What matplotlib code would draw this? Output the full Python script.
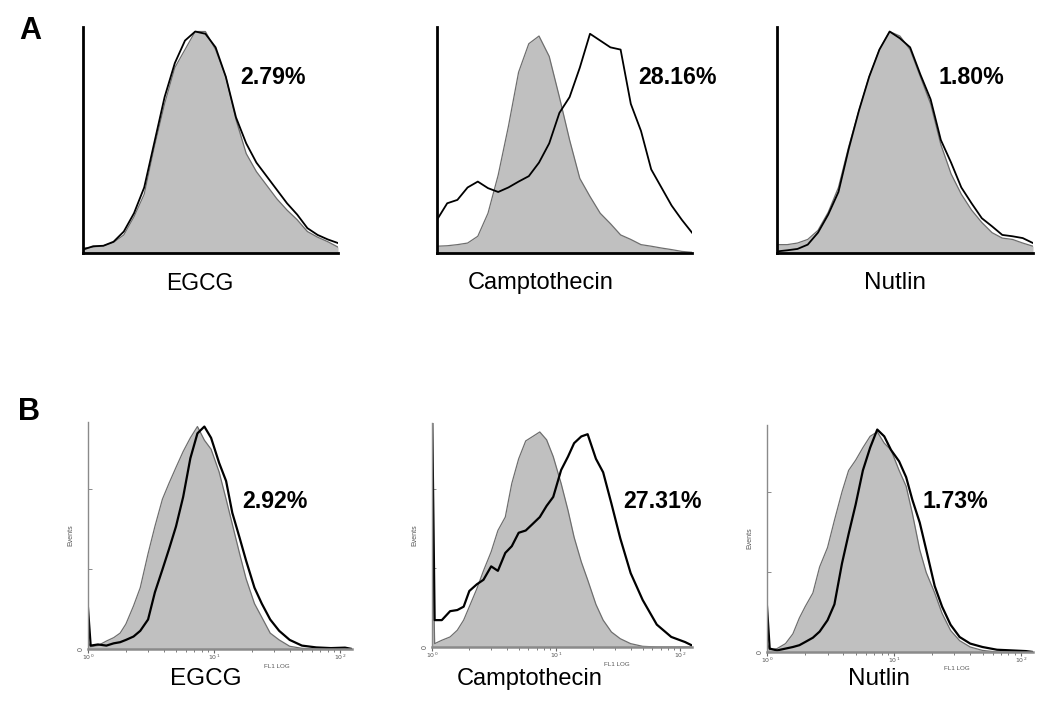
import numpy as np
import matplotlib
matplotlib.use('Agg')
import matplotlib.pyplot as plt
from matplotlib.ticker import FixedLocator, NullFormatter

plt.rcParams['font.family'] = ['Liberation Sans', 'DejaVu Sans']

# ---- data ----
drugs = ['EGCG', 'Camptothecin', 'Nutlin']
pct_a = ['2.79%', '28.16%', '1.80%']
pct_b = ['2.92%', '27.31%', '1.73%']

# panel A: channel position (% of axis width), counts (% of axis height)
top_x = [0, 4, 8, 12, 16, 20, 24, 28, 32, 36, 40, 44, 48, 52, 56, 60, 64, 68, 72, 76, 80, 84, 88, 92, 96, 100]
egcg_a_ctrl = [2.2, 2.6, 3.2, 4.7, 8, 16, 26, 47, 66, 82, 90, 98, 98, 90, 78, 59, 44, 36, 30, 24, 19, 14.7, 9.5, 7, 5, 2.6]
egcg_a_trt = [1.5, 3, 3.2, 5, 9.5, 17.6, 29, 49, 69, 84, 94, 98, 97, 91, 78, 60, 48.5, 40, 34, 28, 22, 17, 11, 8, 6, 4.4]
campto_a_ctrl = [3, 3.2, 3.7, 4.4, 7.4, 17.6, 34.5, 56, 80, 92.6, 96, 87, 69, 50, 33, 25, 17.6, 13, 8, 6, 3.7, 3, 2.2, 1.5, 0.7, 0.3]
campto_a_trt = [14.7, 22, 23.5, 29, 31.6, 28.7, 27, 29, 31.6, 34, 40, 48.5, 62, 69, 82, 97, 94, 91, 90, 66, 54, 37, 29, 21, 14.7, 9]
nutlin_a_ctrl = [3.7, 3.7, 4.4, 6, 10, 18, 29, 47, 63, 78, 90, 98, 96, 90, 78, 66, 48, 35, 26, 19, 13.5, 9, 6.6, 6, 4.4, 3]
nutlin_a_trt = [0.7, 1.2, 1.8, 3.7, 9, 17, 27, 46, 63, 78, 90, 98, 95, 91, 79, 68, 50, 40, 29, 22, 15.4, 11.8, 8, 7.4, 6.6, 4.4]

# panel B: FL1 (log), events (% of axis height)
fl1 = [1.0, 1.05, 1.2, 1.4, 1.6, 1.8, 2.0, 2.3, 2.6, 3.0, 3.4, 3.9, 4.4, 5.0, 5.7, 6.5, 7.4,
       8.4, 9.5, 11, 12.5, 14, 16, 18, 21, 24, 28, 33, 40, 50, 65, 85, 110, 125]
egcg_b_ctrl = [3, 1, 1.5, 3.5, 5, 7, 11, 19, 27, 42, 54, 66, 73, 80, 87, 93, 98,
               92, 88, 78, 66, 55, 42, 31, 20, 14, 7, 4, 1.2, 0.3, 0, 0, 0, 0]
egcg_b_trt = [18, 1.5, 2, 1.5, 2.5, 3, 4, 5.5, 8, 13, 25, 35, 44, 54, 67, 84, 95,
              98, 93, 82, 74, 60, 49, 39, 27, 20, 13, 8, 4, 1.5, 0.7, 0.4, 0.6, 0]
campto_b_ctrl = [64, 1.5, 3, 4.5, 7.5, 12, 18, 26, 34, 42.5, 52, 58, 73, 84, 92, 94, 96,
                 92.5, 85, 73, 61, 49, 38, 30, 19, 12, 6.7, 3.7, 1.5, 0.3, 0, 0, 0, 0]
campto_b_trt = [110, 12, 12, 16, 16.5, 18, 25, 28, 30, 36, 34, 42, 45, 51, 52, 55, 58,
                63, 67, 79, 85, 91, 94, 95, 84, 78, 64, 48.5, 33, 21, 10, 4.5, 2.2, 0.7]
nutlin_b_ctrl = [4, 1, 1.5, 3.7, 8, 15, 20, 26, 37.5, 46, 58, 70.5, 80, 84.5, 90, 95, 97,
                 92, 89, 80, 73, 61, 45, 35, 26, 17, 9.5, 5, 2.2, 0.7, 0, 0, 0, 0]
nutlin_b_trt = [20, 1.5, 0.7, 1.5, 2.2, 3, 4.4, 6.3, 9, 14, 21, 39, 52, 65, 80, 90, 98,
                95, 89, 84, 77, 67, 57, 45, 29, 20, 12, 6.6, 3.7, 2.2, 1, 0.7, 0.4, 0]

ctrl_a = [egcg_a_ctrl, campto_a_ctrl, nutlin_a_ctrl]
trt_a = [egcg_a_trt, campto_a_trt, nutlin_a_trt]
ctrl_b = [egcg_b_ctrl, campto_b_ctrl, nutlin_b_ctrl]
trt_b = [egcg_b_trt, campto_b_trt, nutlin_b_trt]

W, H = 1050, 708
fig = plt.figure(figsize=(W / 100, H / 100), dpi=100)

def rect(l, t, r, b):
    return [l / W, 1 - b / H, (r - l) / W, (b - t) / H]

def ftext(x, y, s, **kw):
    fig.text(x / W, 1 - y / H, s, **kw)

fill_c = '#c0c0c0'
edge_c = '#6e6e6e'

# ---- row A ----
a_boxes = [(83, 27, 338, 253), (437, 27, 692, 253), (777, 27, 1033, 253)]
for i, box in enumerate(a_boxes):
    ax = fig.add_axes(rect(*box))
    ax.fill_between(top_x, 0, ctrl_a[i], color=fill_c, lw=0)
    ax.plot(top_x, ctrl_a[i], color=edge_c, lw=0.9)
    ax.plot(top_x, trt_a[i], color='black', lw=1.3)
    ax.set_xlim(0, 100)
    ax.set_ylim(0, 100)
    for s in ['top', 'right']:
        ax.spines[s].set_visible(False)
    for s in ['left', 'bottom']:
        ax.spines[s].set_linewidth(2)
    ax.set_xticks([])
    ax.set_yticks([])
    ax.patch.set_alpha(0)

a_pct_pos = [(240, 78), (638, 78), (938, 78)]
for (x, y), s in zip(a_pct_pos, pct_a):
    ftext(x, y, s, fontsize=16.7, fontweight='bold', ha='left', va='center')
a_lab_pos = [(200, 283, 16.5), (541, 283, 17), (895, 283, 17.5)]
for (x, y, fs), s in zip(a_lab_pos, drugs):
    ftext(x, y, s, fontsize=fs, ha='center', va='center')

# ---- row B ----
b_boxes = [(88, 422, 352, 649), (432, 423, 692, 647), (767, 425, 1033, 652)]
for i, box in enumerate(b_boxes):
    ax = fig.add_axes(rect(*box))
    ax.set_xscale('log')
    ax.fill_between(fl1, 0, ctrl_b[i], color=fill_c, lw=0)
    ax.plot(fl1, ctrl_b[i], color=edge_c, lw=0.9)
    ax.plot(fl1, trt_b[i], color='black', lw=1.6)
    ax.set_xlim(1, 125)
    ax.set_ylim(0, 100)
    for s in ['top', 'right']:
        ax.spines[s].set_visible(False)
    ax.spines['left'].set_color('#8a8a8a')
    ax.spines['left'].set_linewidth(1)
    ax.spines['bottom'].set_color('#8a8a8a')
    ax.spines['bottom'].set_linewidth(1.8)
    ax.xaxis.set_major_locator(FixedLocator([1, 10, 100]))
    ax.set_xticklabels([r'$10^0$', r'$10^1$', r'$10^2$'])
    ax.xaxis.set_minor_locator(FixedLocator([2, 3, 4, 5, 6, 7, 8, 9, 20, 30, 40, 50, 60, 70, 80, 90]))
    ax.xaxis.set_minor_formatter(NullFormatter())
    ax.tick_params(axis='x', which='major', direction='out', length=3, width=0.8,
                   color='#666666', labelsize=4.5, labelcolor='#555555', pad=0)
    ax.tick_params(axis='x', which='minor', direction='out', length=2, width=0.6, color='#666666')
    ax.set_yticks([0, 35.2, 70.4])
    ax.set_yticklabels(['0', '', ''], rotation=90, va='center')
    ax.tick_params(axis='y', direction='in', length=3, width=0.6, color='#777777',
                   labelsize=5, labelcolor='#555555', pad=2)
    ax.set_ylabel('Events', fontsize=5, color='#555555', labelpad=3)
    ax.patch.set_alpha(0)

b_pct_pos = [(242, 502), (623, 502), (923, 502)]
for (x, y), s in zip(b_pct_pos, pct_b):
    ftext(x, y, s, fontsize=16.7, fontweight='bold', ha='left', va='center')
b_lab_pos = [(206, 679, 17.5), (530, 679, 17), (879, 679, 17.5)]
for (x, y, fs), s in zip(b_lab_pos, drugs):
    ftext(x, y, s, fontsize=fs, ha='center', va='center')
fl_pos = [(277, 667), (617, 665), (957, 669)]
for x, y in fl_pos:
    ftext(x, y, 'FL1 LOG', fontsize=4.5, color='#555555', ha='center', va='center')

ftext(30, 31, 'A', fontsize=22, fontweight='bold', ha='center', va='center')
ftext(29, 412, 'B', fontsize=22, fontweight='bold', ha='center', va='center')

fig.savefig('out.png', dpi=100)
